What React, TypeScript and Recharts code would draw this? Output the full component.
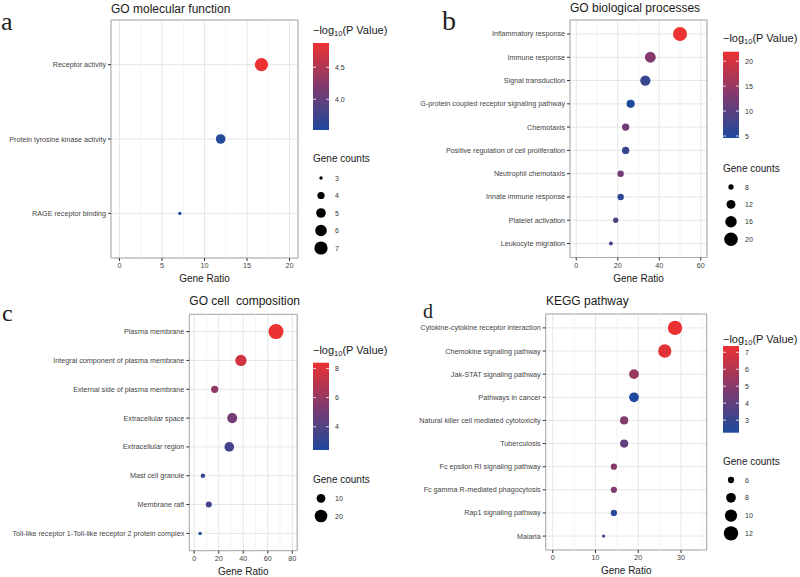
import React from 'react'
import {
  ScatterChart, Scatter, XAxis, YAxis, ZAxis, CartesianGrid, ReferenceArea, ReferenceLine, Cell, Legend,
} from 'recharts'

// a: GO molecular function
const mfTerms = ['Receptor activity', 'Protein tyrosine kinase activity', 'RAGE receptor binding']
const mfRatio = [16.7, 11.9, 7.1]
const mfCount = [7, 5, 3]
const mfLogP = [4.88, 3.56, 3.52]
const mfXTicks = [0, 5, 10, 15, 20]
const mfColorTicks = [4.0, 4.5]
const mfSizeTicks = [3, 4, 5, 6, 7]

// b: GO biological processes
const bpTerms = [
  'Inflammatory response', 'Immune response', 'Signal transduction',
  'G-protein coupled receptor signaling pathway', 'Chemotaxis',
  'Positive regulation of cell proliferation', 'Neutrophil chemotaxis',
  'Innate immune response', 'Platelet activation', 'Leukocyte migration',
]
const bpRatio = [50.0, 35.7, 33.3, 26.2, 23.8, 23.8, 21.4, 21.4, 19.0, 16.7]
const bpCount = [21, 15, 14, 11, 10, 10, 9, 9, 8, 7]
const bpLogP = [21.9, 13.5, 7.0, 4.6, 12.0, 7.0, 12.0, 6.0, 9.5, 8.0]
const bpXTicks = [0, 20, 40, 60]
const bpColorTicks = [5, 10, 15, 20]
const bpSizeTicks = [8, 12, 16, 20]

// c: GO cell composition
const ccTerms = [
  'Plasma membrane', 'Integral component of plasma membrane', 'External side of plasma membrane',
  'Extracellular space', 'Extracellular region', 'Mast cell granule', 'Membrane raft',
  'Toll-like receptor 1-Toll-like receptor 2 protein complex',
]
const ccRatio = [66.7, 38.1, 16.7, 31.0, 28.6, 7.1, 11.9, 4.8]
const ccCount = [28, 16, 7, 13, 12, 3, 5, 2]
const ccLogP = [8.4, 7.6, 5.8, 5.0, 3.6, 3.2, 3.5, 2.4]
const ccXTicks = [0, 20, 40, 60, 80]
const ccColorTicks = [4, 6, 8]
const ccSizeTicks = [10, 20]

// d: KEGG pathway
const kgTerms = [
  'Cytokine-cytokine receptor interaction', 'Chemokine signaling pathway', 'Jak-STAT signaling pathway',
  'Pathways in cancer', 'Natural killer cell mediated cytotoxicity', 'Tuberculosis',
  'Fc epsilon RI signaling pathway', 'Fc gamma R-mediated phagocytosis', 'Rap1 signaling pathway', 'Malaria',
]
const kgRatio = [28.6, 26.2, 19.0, 19.0, 16.7, 16.7, 14.3, 14.3, 14.3, 11.9]
const kgCount = [12, 11, 8, 8, 7, 7, 6, 6, 6, 5]
const kgLogP = [7.37, 7.1, 5.4, 2.26, 4.8, 4.0, 5.0, 4.7, 2.5, 3.5]
const kgXTicks = [0, 10, 20, 30]
const kgColorTicks = [3, 4, 5, 6, 7]
const kgSizeTicks = [6, 8, 10, 12]

const FONT = '"Liberation Sans", Arial, Helvetica, sans-serif'
const LOW = [29, 74, 156]
const MID = [128, 58, 110]
const HIGH = [236, 49, 50]

function mix(a: number[], b: number[], t: number) {
  const c = a.map((v, i) => Math.round(v + (b[i] - v) * t))
  return `rgb(${c[0]},${c[1]},${c[2]})`
}

function heat(t: number) {
  const k = Math.max(0, Math.min(1, t))
  return k < 0.5 ? mix(LOW, MID, k * 2) : mix(MID, HIGH, (k - 0.5) * 2)
}

type LegendPos = {
  x: number; titleY: number; barTop: number; barBottom: number
  countsY: number; dotY0: number; dotStep: number
}

type PanelProps = {
  id: string
  left: number; top: number; width: number; height: number
  margin: { top: number; right: number; bottom: number; left: number }
  yWidth: number
  terms: string[]; ratio: number[]; count: number[]; logp: number[]
  xDomain: [number, number]; xTicks: number[]
  zRange: [number, number]
  colorTicks: number[]; colorDigits: number
  sizeTicks: number[]
  legend: LegendPos
}

function SideLegend({ p }: { p: PanelProps }) {
  const lg = p.legend
  const y0 = lg.titleY - 12
  const lo = Math.min(...p.logp)
  const hi = Math.max(...p.logp)
  const zLo = Math.min(...p.count)
  const zHi = Math.max(...p.count)
  const barH = lg.barBottom - lg.barTop
  const yOf = (v: number) => lg.barBottom - ((v - lo) / (hi - lo)) * barH - y0
  const rOf = (c: number) => {
    const area = p.zRange[0] + ((c - zLo) / (zHi - zLo)) * (p.zRange[1] - p.zRange[0])
    return Math.sqrt(area / Math.PI)
  }
  const h = lg.dotY0 + lg.dotStep * (p.sizeTicks.length - 1) + 12 - y0
  return (
    <svg width={86} height={h} style={{ display: 'block', fontFamily: FONT }}>
      <defs>
        <linearGradient id={`cb-${p.id}`} x1="0" y1="1" x2="0" y2="0">
          <stop offset="0%" stopColor={heat(0)} />
          <stop offset="50%" stopColor={heat(0.5)} />
          <stop offset="100%" stopColor={heat(1)} />
        </linearGradient>
      </defs>
      <text x={0} y={lg.titleY - y0 + 3.8} fontSize={11} fill="#1a1a1a">
        −log<tspan fontSize={7.5} dy={2.5}>10</tspan><tspan dy={-2.5}>(P Value)</tspan>
      </text>
      <rect x={0} y={lg.barTop - y0} width={16} height={barH} fill={`url(#cb-${p.id})`} />
      {p.colorTicks.map(v => (
        <g key={v}>
          <line x1={0} x2={3} y1={yOf(v)} y2={yOf(v)} stroke="#fff" strokeWidth={0.8} />
          <line x1={13} x2={16} y1={yOf(v)} y2={yOf(v)} stroke="#fff" strokeWidth={0.8} />
          <text x={22} y={yOf(v) + 2.5} fontSize={7} fill="#333">{v.toFixed(p.colorDigits)}</text>
        </g>
      ))}
      <text x={0} y={lg.countsY - y0 + 3.5} fontSize={10} fill="#1a1a1a">Gene counts</text>
      {p.sizeTicks.map((c, i) => {
        const cy = lg.dotY0 + i * lg.dotStep - y0
        return (
          <g key={c}>
            <circle cx={8} cy={cy} r={rOf(c)} fill="#000" />
            <text x={22} y={cy + 2.5} fontSize={7} fill="#333">{c}</text>
          </g>
        )
      })}
    </svg>
  )
}

function TermTick(props: any) {
  const { x, y, payload, terms } = props
  const n = terms.length
  return (
    <text x={x} y={y} dy={2.5} textAnchor="end" fontSize={7.2} fill="#444" fontFamily={FONT}>
      {terms[n - payload.value] ?? ''}
    </text>
  )
}

function Panel(p: PanelProps) {
  const n = p.terms.length
  const rows = p.terms.map((t, i) => ({
    term: t, ratio: p.ratio[i], y: n - i, count: p.count[i], logp: p.logp[i],
  }))
  const lo = Math.min(...p.logp)
  const hi = Math.max(...p.logp)
  const yTicks = rows.map(r => r.y)
  const step = p.xTicks[1] - p.xTicks[0]
  const minor = [...p.xTicks, p.xTicks[p.xTicks.length - 1] + step]
    .map(v => v - step / 2)
    .filter(v => v > p.xDomain[0] && v < p.xDomain[1])
  const lg = p.legend

  return (
    <div style={{ position: 'absolute', left: p.left, top: p.top }}>
      <ScatterChart width={p.width} height={p.height} margin={p.margin}>
        <CartesianGrid stroke="#e6e6e6" />
        {minor.map(v => (
          <ReferenceLine key={v} x={v} stroke="#f0f0f0" strokeWidth={0.8} />
        ))}
        <XAxis
          type="number"
          dataKey="ratio"
          domain={p.xDomain}
          ticks={p.xTicks}
          allowDataOverflow
          height={24}
          axisLine={false}
          tickLine={{ stroke: '#333' }}
          tickSize={3}
          tickMargin={2}
          tick={{ fontSize: 7.2, fill: '#444', fontFamily: FONT }}
          label={{ value: 'Gene Ratio', position: 'insideBottom', offset: 0, fontSize: 10, fill: '#1a1a1a', fontFamily: FONT }}
        />
        <YAxis
          type="number"
          dataKey="y"
          domain={[0.4, n + 0.6]}
          ticks={yTicks}
          interval={0}
          allowDataOverflow
          width={p.yWidth}
          axisLine={false}
          tickLine={{ stroke: '#333' }}
          tickSize={3}
          tickMargin={2}
          tick={<TermTick terms={p.terms} />}
        />
        <ZAxis type="number" dataKey="count" domain={[Math.min(...p.count), Math.max(...p.count)]} range={p.zRange} />
        <ReferenceArea
          x1={p.xDomain[0]} x2={p.xDomain[1]} y1={0.4} y2={n + 0.6}
          fill="none" stroke="#a8a8a8" strokeWidth={1} fillOpacity={0}
        />
        <Scatter data={rows} isAnimationActive={false}>
          {rows.map(r => (
            <Cell key={r.term} fill={heat((r.logp - lo) / (hi - lo))} />
          ))}
        </Scatter>
        <Legend
          layout="vertical"
          align="center"
          verticalAlign="middle"
          wrapperStyle={{ left: lg.x - p.left, top: lg.titleY - 12 - p.top, width: 86 }}
          content={<SideLegend p={p} />}
        />
      </ScatterChart>
    </div>
  )
}

const panels: PanelProps[] = [
  {
    id: 'a', left: 0, top: 0, width: 400, height: 290,
    margin: { top: 20, right: 102, bottom: 8, left: 0 }, yWidth: 111,
    terms: mfTerms, ratio: mfRatio, count: mfCount, logp: mfLogP,
    xDomain: [-1, 21], xTicks: mfXTicks, zRange: [9, 137],
    colorTicks: mfColorTicks, colorDigits: 1, sizeTicks: mfSizeTicks,
    legend: { x: 313, titleY: 30, barTop: 43, barBottom: 130, countsY: 158, dotY0: 178, dotStep: 17.5 },
  },
  {
    id: 'b', left: 400, top: 0, width: 400, height: 290,
    margin: { top: 20, right: 93, bottom: 8.5, left: 0 }, yWidth: 170,
    terms: bpTerms, ratio: bpRatio, count: bpCount, logp: bpLogP,
    xDomain: [-3, 63], xTicks: bpXTicks, zRange: [12, 154],
    colorTicks: bpColorTicks, colorDigits: 0, sizeTicks: bpSizeTicks,
    legend: { x: 723, titleY: 38, barTop: 51.7, barBottom: 138, countsY: 168, dotY0: 187, dotStep: 17.4 },
  },
  {
    id: 'c', left: 0, top: 280, width: 400, height: 297,
    margin: { top: 34.3, right: 102.8, bottom: 2.3, left: 0 }, yWidth: 189.3,
    terms: ccTerms, ratio: ccRatio, count: ccCount, logp: ccLogP,
    xDomain: [-4, 84], xTicks: ccXTicks, zRange: [9, 177],
    colorTicks: ccColorTicks, colorDigits: 0, sizeTicks: ccSizeTicks,
    legend: { x: 313, titleY: 350, barTop: 362.7, barBottom: 450, countsY: 479, dotY0: 498.3, dotStep: 17.7 },
  },
  {
    id: 'd', left: 400, top: 280, width: 400, height: 297,
    margin: { top: 34, right: 93.3, bottom: 3, left: 0 }, yWidth: 145.7,
    terms: kgTerms, ratio: kgRatio, count: kgCount, logp: kgLogP,
    xDomain: [-1.64, 36], xTicks: kgXTicks, zRange: [9, 161],
    colorTicks: kgColorTicks, colorDigits: 0, sizeTicks: kgSizeTicks,
    legend: { x: 723, titleY: 339, barTop: 346, barBottom: 432.7, countsY: 461.7, dotY0: 480, dotStep: 17.8 },
  },
]

export default function App() {
  return (
    <div style={{ position: 'absolute', left: 0, top: 0, width: 800, height: 577, background: '#fff', fontFamily: FONT, overflow: 'hidden' }}>
      {panels.map(p => <Panel key={p.id} {...p} />)}
      <svg width={800} height={577} style={{ position: 'absolute', left: 0, top: 0, pointerEvents: 'none' }}>
        <g fontFamily={FONT} fontSize={12} fill="#1a1a1a" style={{ whiteSpace: 'pre' }}>
          <text x={111} y={12.5}>GO molecular function</text>
          <text x={570} y={12}>GO biological processes</text>
          <text x={189.3} y={305} xmlSpace="preserve">GO cell  composition</text>
          <text x={546} y={305}>KEGG pathway</text>
        </g>
        <g fontFamily='"Liberation Serif", "Times New Roman", serif' fill="#222">
          <text x={1} y={30} fontSize={26}>a</text>
          <text x={442} y={30} fontSize={28}>b</text>
          <text x={2} y={321} fontSize={24}>c</text>
          <text x={423} y={318} fontSize={20}>d</text>
        </g>
      </svg>
    </div>
  )
}
